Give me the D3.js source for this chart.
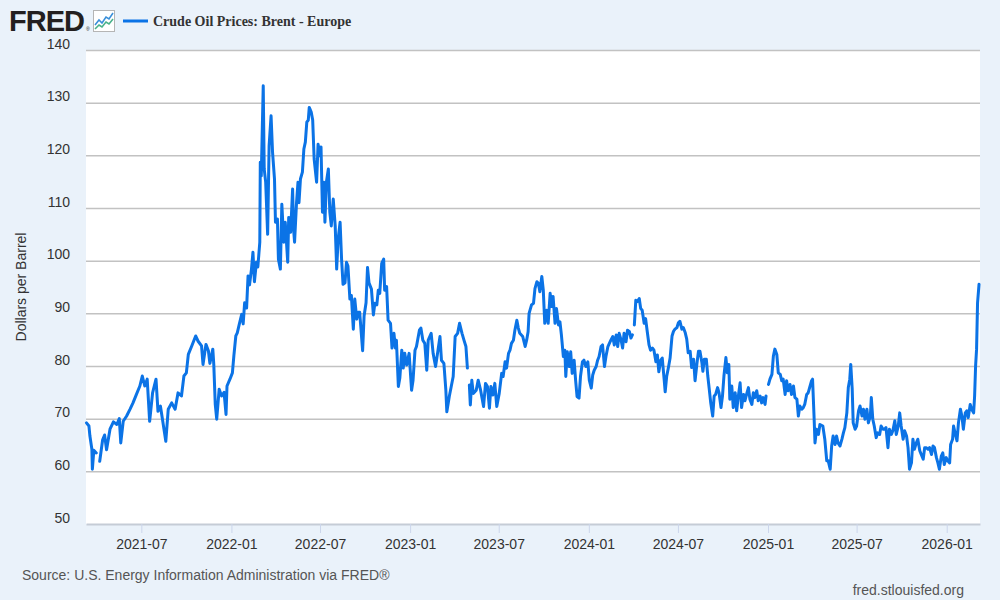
<!DOCTYPE html>
<html>
<head>
<meta charset="utf-8">
<script src="https://cdn.jsdelivr.net/npm/d3@7"></script>
<style>
  body { margin: 0; background: #eaf2fa; }
  svg { display: block; font-family: "Liberation Sans", Arial, sans-serif; }
</style>
</head>
<body>
<svg id="chart" width="1000" height="600"></svg>
<script>
//--------------data (Brent, $/bbl)--------------//
var seriesTitle = "Crude Oil Prices: Brent - Europe";
var yLabel = "Dollars per Barrel";
var sourceText = "Source: U.S. Energy Information Administration via FRED\u00ae";
var siteText = "fred.stlouisfed.org";

var yTicks = [50, 60, 70, 80, 90, 100, 110, 120, 130, 140];
var xTickLabels = ["2021-07", "2022-01", "2022-07", "2023-01", "2023-07",
  "2024-01", "2024-07", "2025-01", "2025-07", "2026-01"];
var dateRange = ["2021-03-10", "2026-03-10"];

// null = missing day (gap in the line)
var dates = [
  "2021-03-11","2021-03-16","2021-03-18","2021-03-22","2021-03-23","2021-03-26","2021-03-31","2021-04-05","2021-04-07","2021-04-13",
  "2021-04-17","2021-04-21","2021-04-28","2021-05-05","2021-05-12","2021-05-17","2021-05-20","2021-05-25","2021-06-01","2021-06-08",
  "2021-06-14","2021-06-21","2021-06-28","2021-07-03","2021-07-08","2021-07-13","2021-07-18","2021-07-24","2021-07-31","2021-08-04",
  "2021-08-09","2021-08-13","2021-08-20","2021-08-25","2021-09-01","2021-09-08","2021-09-14","2021-09-21","2021-09-26","2021-10-01",
  "2021-10-05","2021-10-12","2021-10-20","2021-10-25","2021-11-01","2021-11-04","2021-11-10","2021-11-15","2021-11-18","2021-11-24",
  "2021-11-26","2021-11-29","2021-12-02","2021-12-07","2021-12-12","2021-12-17","2021-12-21","2021-12-23","2021-12-29",
  "2022-01-03","2022-01-06","2022-01-10","2022-01-13","2022-01-17","2022-01-22","2022-01-25","2022-01-28","2022-02-01","2022-02-04",
  "2022-02-07","2022-02-11","2022-02-14","2022-02-17","2022-02-21","2022-02-24","2022-02-28","2022-03-01","2022-03-03","2022-03-07",
  "2022-03-09","2022-03-12","2022-03-16","2022-03-19","2022-03-23","2022-03-26","2022-03-30","2022-04-01","2022-04-05","2022-04-07",
  "2022-04-11","2022-04-14","2022-04-18","2022-04-21","2022-04-26","2022-04-28","2022-05-02","2022-05-06","2022-05-08","2022-05-10",
  "2022-05-14","2022-05-17","2022-05-19","2022-05-22","2022-05-26","2022-05-29","2022-06-01","2022-06-04","2022-06-07","2022-06-09",
  "2022-06-13","2022-06-16","2022-06-19","2022-06-24","2022-06-27","2022-07-01","2022-07-03","2022-07-06","2022-07-09","2022-07-11",
  "2022-07-14","2022-07-18","2022-07-21","2022-07-24","2022-07-28","2022-08-01","2022-08-04","2022-08-07","2022-08-11","2022-08-14",
  "2022-08-17","2022-08-21","2022-08-24","2022-08-27","2022-08-31","2022-09-03","2022-09-07","2022-09-10","2022-09-14","2022-09-17",
  "2022-09-20","2022-09-26","2022-09-29","2022-10-03","2022-10-06","2022-10-09","2022-10-14","2022-10-18","2022-10-21","2022-10-25",
  "2022-10-28","2022-10-31","2022-11-04","2022-11-08","2022-11-10","2022-11-14","2022-11-17","2022-11-22","2022-11-25","2022-11-29",
  "2022-12-02","2022-12-04","2022-12-08","2022-12-11","2022-12-15","2022-12-18","2022-12-21","2022-12-25","2022-12-30",
  "2023-01-04","2023-01-07","2023-01-11","2023-01-14","2023-01-20","2023-01-23","2023-01-27","2023-01-31","2023-02-04","2023-02-07",
  "2023-02-13","2023-02-17","2023-02-22","2023-02-26","2023-03-03","2023-03-06","2023-03-11","2023-03-15","2023-03-17","2023-03-22",
  "2023-03-26","2023-03-30","2023-04-03","2023-04-08","2023-04-12","2023-04-17","2023-04-21","2023-04-25","2023-04-28","2023-05-01",
  "2023-05-02","2023-05-04","2023-05-07","2023-05-10","2023-05-16","2023-05-20","2023-05-25","2023-05-31","2023-06-04","2023-06-08",
  "2023-06-12","2023-06-15","2023-06-19","2023-06-23","2023-06-27","2023-07-02","2023-07-07","2023-07-10","2023-07-14","2023-07-17",
  "2023-07-21","2023-07-24","2023-07-27","2023-07-31","2023-08-03","2023-08-07","2023-08-10","2023-08-13","2023-08-19","2023-08-24",
  "2023-08-27","2023-08-30","2023-09-01","2023-09-06","2023-09-10","2023-09-13","2023-09-17","2023-09-20","2023-09-23","2023-09-27",
  "2023-09-30","2023-10-03","2023-10-07","2023-10-10","2023-10-14","2023-10-17","2023-10-20","2023-10-24","2023-10-27","2023-10-31",
  "2023-11-03","2023-11-06","2023-11-10","2023-11-13","2023-11-15","2023-11-18","2023-11-22","2023-11-25","2023-11-28","2023-12-02",
  "2023-12-05","2023-12-08","2023-12-12","2023-12-15","2023-12-19","2023-12-22","2023-12-26","2023-12-30",
  "2024-01-02","2024-01-06","2024-01-09","2024-01-12","2024-01-16","2024-01-19","2024-01-22","2024-01-26","2024-01-29","2024-02-02",
  "2024-02-05","2024-02-09","2024-02-12","2024-02-15","2024-02-19","2024-02-22","2024-02-26","2024-02-29","2024-03-03","2024-03-07",
  "2024-03-10","2024-03-13","2024-03-17","2024-03-20","2024-03-24","2024-03-27","2024-03-30","2024-04-01","2024-04-03","2024-04-06",
  "2024-04-09","2024-04-13","2024-04-16","2024-04-19","2024-04-23","2024-04-26","2024-04-29","2024-05-03","2024-05-06","2024-05-10",
  "2024-05-13","2024-05-17","2024-05-20","2024-05-23","2024-05-27","2024-05-30","2024-06-03","2024-06-05","2024-06-08","2024-06-12",
  "2024-06-15","2024-06-19","2024-06-22","2024-06-25","2024-06-29","2024-07-02","2024-07-05","2024-07-09","2024-07-12","2024-07-16",
  "2024-07-19","2024-07-22","2024-07-26","2024-07-29","2024-08-02","2024-08-05","2024-08-09","2024-08-12","2024-08-15","2024-08-19",
  "2024-08-21","2024-08-24","2024-08-28","2024-08-31","2024-09-03","2024-09-06","2024-09-10","2024-09-13","2024-09-16","2024-09-20",
  "2024-09-23","2024-09-27","2024-09-30","2024-10-03","2024-10-07","2024-10-10","2024-10-13","2024-10-15","2024-10-19","2024-10-22",
  "2024-10-26","2024-10-29","2024-11-01","2024-11-05","2024-11-08","2024-11-12","2024-11-15","2024-11-19","2024-11-22","2024-11-25",
  "2024-11-29","2024-12-02","2024-12-05","2024-12-09","2024-12-12","2024-12-16","2024-12-19","2024-12-22","2024-12-26","2024-12-28",
  "2024-12-30",
  "2025-01-02","2025-01-05","2025-01-09","2025-01-12","2025-01-15","2025-01-19","2025-01-22","2025-01-26","2025-01-29","2025-02-01",
  "2025-02-05","2025-02-08","2025-02-11","2025-02-15","2025-02-18","2025-02-22","2025-02-25","2025-03-01","2025-03-04","2025-03-07",
  "2025-03-11","2025-03-14","2025-03-17","2025-03-21","2025-03-24","2025-03-27","2025-03-31","2025-04-02","2025-04-05","2025-04-07",
  "2025-04-10","2025-04-14","2025-04-17","2025-04-23","2025-04-27","2025-05-01","2025-05-04","2025-05-08","2025-05-11","2025-05-14",
  "2025-05-18","2025-05-21","2025-05-24","2025-05-28","2025-06-01","2025-06-04","2025-06-07","2025-06-11","2025-06-14","2025-06-17",
  "2025-06-19","2025-06-22","2025-06-24","2025-06-28","2025-07-01","2025-07-05","2025-07-08","2025-07-12","2025-07-15","2025-07-18",
  "2025-07-22","2025-07-25","2025-07-29","2025-07-31","2025-08-03","2025-08-06","2025-08-10","2025-08-13","2025-08-17","2025-08-20",
  "2025-08-24","2025-08-27","2025-08-30","2025-09-03","2025-09-06","2025-09-10","2025-09-13","2025-09-17","2025-09-20","2025-09-24",
  "2025-09-27","2025-09-30","2025-10-04","2025-10-07","2025-10-11","2025-10-14","2025-10-17","2025-10-21","2025-10-24","2025-10-27",
  "2025-10-31","2025-11-03","2025-11-07","2025-11-10","2025-11-14","2025-11-17","2025-11-20","2025-11-24","2025-11-27","2025-12-01",
  "2025-12-04","2025-12-07","2025-12-11","2025-12-14","2025-12-17","2025-12-21","2025-12-24","2025-12-27","2025-12-31",
  "2026-01-03","2026-01-07","2026-01-09","2026-01-13","2026-01-15","2026-01-18","2026-01-22","2026-01-25","2026-01-29","2026-02-01",
  "2026-02-04","2026-02-08","2026-02-11","2026-02-14","2026-02-18","2026-02-21","2026-02-25","2026-02-27","2026-03-01","2026-03-03",
  "2026-03-05","2026-03-08"
];

var brent = [
  69.2,68.6,66.7,64.2,60.4,64,63.5,null,61.9,66,
  66.9,64.1,68,69.4,68.9,70,65.4,69.5,70.5,71.8,
  73,74.6,76.2,78.1,76.2,77.5,69.5,74.9,77.5,71.4,
  72.4,70,65.7,71.8,73,71.8,74.9,74.3,78.1,78.7,
  82.2,83.8,85.7,84.7,83.8,80.3,84.1,82.9,80.5,83.2,
  80.3,72.7,69.9,75.6,74.3,75,70.8,76.2,77.5,
  78.7,81.9,85.7,86.3,87.9,89.8,88,92,91,97.1,
  95.4,98.4,101.6,96,99.7,98.8,103.5,118.7,116.1,133.2,
  117.4,114.9,105,121.8,127.5,120.6,115.5,107.3,107.9,100.3,
  98.4,110.7,103.5,107.3,99.7,108.2,105.4,113.6,106,103.5,
  111,114.9,111,115.5,116.8,121.2,122.5,126.3,126.7,129.1,
  128.2,126.7,119.3,114.9,122.1,119.9,121.6,109.2,114.9,107.3,
  114.9,117.4,109.2,106.6,111.7,106.6,98.4,104.1,107.3,100.3,
  95.5,95.8,99.7,99,92.7,93.4,87,92.7,88.9,90.2,
  90.2,82.9,89.5,92,98.7,95.8,94.6,89.7,91.9,91.6,
  94.4,93.8,99.5,100.3,94.4,95.1,88.7,88.1,83.4,86.2,
  83.4,84.9,76.1,77.7,83,79.6,82.4,80.2,82.4,
  75.4,77.3,83,83.7,86.8,87.2,84.9,84.3,79.2,84.9,
  86.2,82.4,79.9,82.4,85.6,81.1,80.5,75.4,71.3,74.2,
  76.1,78,85.6,86.2,88.1,86.2,84.9,83.7,79.6,null,
  76.4,72.6,77.3,74.8,75.4,77.3,75.4,72.3,76.7,76.1,
  72,76.1,74.5,76.7,72.3,74.8,78.6,78,80.8,79.6,
  82.4,83,84.3,84.9,86.8,88.7,87.2,86.2,85.6,83.7,
  84.9,86.5,90,91.6,91.9,94.7,96,95.7,94.1,97,
  94.4,88.1,90.6,88.1,93.8,91.3,93.2,88.1,90.9,87.8,
  88.4,85.9,81.8,83,78,82.7,79.9,82.7,78.6,81.1,
  77.3,74.2,73.9,78,80.8,81.1,79.9,80.8,
  77.3,75.8,78.3,79.2,79.9,81.1,81.8,83.7,84,79.9,
  81.8,83.7,84.3,84.9,85.6,84,85.9,83.7,86.2,84.9,
  83.4,86.2,84.6,86.8,86.5,85.3,85.9,null,87.8,92.5,
  92.2,92.8,90.9,90.6,88.1,89,86.8,84,83,83.4,
  83,80.8,82.1,78.9,81.1,81.5,77.3,75.1,78,79.9,
  81.5,85.7,86.6,87,87.3,88.2,88.5,87,87.3,86.3,
  85.1,82.5,82.8,79.7,81.3,77.2,80.6,82.8,82.8,80.6,
  79,81.3,81.3,78.1,75.6,73,70.5,74.3,74.6,75.9,
  74.9,72.1,74.3,78.1,81.6,78.7,80.3,73.7,76.2,72.1,
  74.9,71.5,74,76.8,72.1,74.6,73.4,74.9,75.9,73.7,
  72.7,74.9,74,75.3,73.4,74.3,73,74,72.7,74.3,
  null,
  76.5,77.5,78.4,81.9,83.2,82.2,78.7,78.4,77.2,77.5,
  74.6,77.2,75.3,76.5,74.6,76.2,74,73.7,70.5,72.4,
  71.8,72.1,72.7,74.6,74.9,75.9,77.2,77.5,70.5,65.4,
  68,67,68.9,68.6,66.1,62,62,60.4,64.8,66.7,
  65.1,66.7,65.4,64.8,66.1,67.3,68.3,71.1,75.9,77.5,
  80.3,75.6,69.2,68,68.6,71.5,72.4,70.5,71.8,69.9,
  71.8,69.2,70.5,74,69.9,68.6,66.4,67.3,67,68.6,
  68,68,68.3,64.5,68,67,67.7,69.6,67,68.6,
  71.1,68.6,66.1,67.7,66.7,64.5,60.4,61.6,66.1,64.2,
  65.4,66.1,63.9,63.2,62.3,64.5,64.5,64.2,64.5,63.2,
  64.8,64.5,62.6,61.6,60.4,62.9,63.5,61.3,62.6,
  62,61.6,65.1,66.1,68.6,67.3,65.8,69.2,71.8,70.5,
  68,71.1,71.5,70.2,72.7,71.8,71.1,74.3,80,83.2,
  92,95.5
];

//--------------build chart--------------//
var parseDate = d3.timeParse("%Y-%m-%d");
var data = dates.map(function (d, i) {
  return { date: parseDate(d), value: brent[i] };
});

var plotLeft = 86, plotRight = 980, plotTop = 50, plotBottom = 524;
var svg = d3.select("#chart");

svg.append("rect")
  .attr("width", 1000).attr("height", 600)
  .attr("fill", "#eaf2fa");

var x = d3.scaleTime()
  .domain(dateRange.map(parseDate))
  .range([plotLeft, plotRight]);

var y = d3.scaleLinear()
  .domain([yTicks[0], yTicks[yTicks.length - 1]])
  .range([plotBottom, plotTop]);

svg.append("rect")
  .attr("x", plotLeft).attr("y", plotTop)
  .attr("width", plotRight - plotLeft).attr("height", plotBottom - plotTop)
  .attr("fill", "#ffffff");

// gridlines + y labels
var yAxis = svg.append("g")
  .attr("transform", "translate(" + plotLeft + ",0)")
  .call(d3.axisLeft(y).tickValues(yTicks)
    .tickSize(-(plotRight - plotLeft)).tickSizeOuter(0).tickPadding(16));
yAxis.select(".domain").remove();
yAxis.selectAll(".tick line")
  .attr("stroke", "#c2c2c2")
  .attr("stroke-width", 1.5);
yAxis.selectAll(".tick:first-of-type line").remove();
yAxis.selectAll(".tick text")
  .attr("dy", "-0.12em")
  .attr("fill", "#333333")
  .style("font-size", "14px");

// x axis
var xTickDates = xTickLabels.map(function (s) { return parseDate(s + "-01"); });
var xAxis = svg.append("g")
  .attr("transform", "translate(0," + plotBottom + ")")
  .call(d3.axisBottom(x).tickValues(xTickDates).tickFormat(d3.timeFormat("%Y-%m"))
    .tickSize(9).tickSizeOuter(0).tickPadding(6));
xAxis.select(".domain")
  .attr("stroke", "#c5ccd6")
  .attr("stroke-width", 2);
xAxis.selectAll(".tick line")
  .attr("stroke", "#ccd6eb");
xAxis.selectAll(".tick text")
  .attr("fill", "#333333")
  .style("font-size", "14px");

// the series line
var line = d3.line()
  .defined(function (d) { return d.value != null; })
  .x(function (d) { return x(d.date); })
  .y(function (d) { return y(d.value); });

svg.append("path")
  .datum(data)
  .attr("fill", "none")
  .attr("stroke", "#0b73e6")
  .attr("stroke-width", 3)
  .attr("stroke-linejoin", "round")
  .attr("stroke-linecap", "round")
  .attr("d", line);

// y axis title
svg.append("text")
  .attr("transform", "translate(26," + ((plotTop + plotBottom) / 2) + ") rotate(-90)")
  .attr("text-anchor", "middle")
  .attr("fill", "#333333")
  .style("font-size", "14px")
  .text(yLabel);

//--------------header: FRED logo + legend--------------//
svg.append("text")
  .attr("x", 9).attr("y", 31)
  .attr("fill", "#231f20")
  .style("font-size", "29px")
  .style("font-weight", "bold")
  .style("letter-spacing", "-1px")
  .text("FRED");
svg.append("text")
  .attr("x", 86).attr("y", 31)
  .attr("fill", "#231f20")
  .style("font-size", "5px")
  .text("\u00ae");

var icon = svg.append("g").attr("transform", "translate(93,10)");
icon.append("rect")
  .attr("x", 0.5).attr("y", 0.5).attr("width", 21).attr("height", 21)
  .attr("fill", "#ffffff").attr("stroke", "#b5b5b5");
icon.append("polyline")
  .attr("points", "2,15 6,10 9,13 13,7 16,9 20,3")
  .attr("fill", "none").attr("stroke", "#3a8fd9").attr("stroke-width", 1.6);
icon.append("polyline")
  .attr("points", "2,19 6,15 9,17 13,12 16,14 20,9")
  .attr("fill", "none").attr("stroke", "#49b18a").attr("stroke-width", 1.6);

svg.append("line")
  .attr("x1", 123).attr("x2", 148).attr("y1", 21).attr("y2", 21)
  .attr("stroke", "#0b73e6").attr("stroke-width", 3);
svg.append("text")
  .attr("x", 153).attr("y", 26)
  .attr("fill", "#333333")
  .style("font-family", "'Liberation Serif', 'Times New Roman', serif")
  .style("font-weight", "bold")
  .style("font-size", "14px")
  .text(seriesTitle);

//--------------footer--------------//
svg.append("text")
  .attr("x", 22).attr("y", 580)
  .attr("fill", "#555555")
  .style("font-size", "14px")
  .text(sourceText);
svg.append("text")
  .attr("x", 964).attr("y", 595)
  .attr("text-anchor", "end")
  .attr("fill", "#555555")
  .style("font-size", "14px")
  .text(siteText);
</script>
</body>
</html>
